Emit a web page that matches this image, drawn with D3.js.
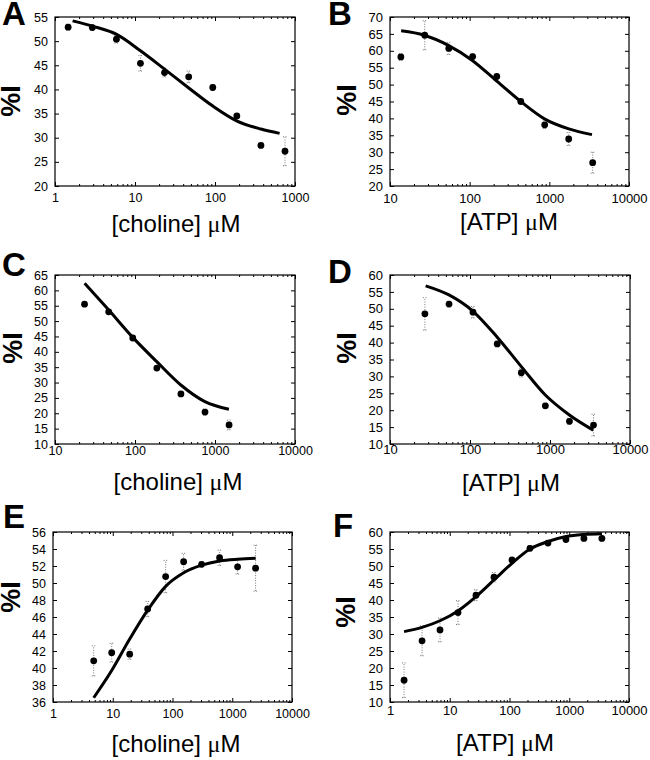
<!DOCTYPE html>
<html>
<head>
<meta charset="utf-8">
<script src="https://cdn.jsdelivr.net/npm/d3@7"></script>
<style>
  html, body { margin: 0; padding: 0; background: #fff; }
  svg { display: block; }
  text { font-family: "Liberation Sans", Arial, sans-serif; fill: #000; }
</style>
</head>
<body>
<svg id="chart" width="650" height="760"></svg>
<script>
// ---- data ----
// A: choline
const concA = [1.46, 2.93, 5.86, 11.7, 23.4, 46.9, 93.8, 187.5, 375, 750];
const valA = [52.9, 52.8, 50.4, 45.4, 43.5, 42.6, 40.4, 34.5, 28.4, 27.2];
const errA = [0.6, 0.6, 0.8, 1.6, 0.9, 1.2, 0.6, 0.4, 0.3, 3.0];
const fitConcA = [1.66, 2.96, 5.9, 11.7, 23.4, 47, 93, 186, 375, 642];
const fitValA = [54.2, 53.1, 51.4, 48.0, 44.2, 40.3, 36.6, 33.5, 31.8, 30.9];

// B: ATP
const concB = [13.7, 27.3, 54.7, 109, 219, 438, 875, 1750, 3500];
const valB = [58.2, 64.6, 60.7, 58.3, 52.4, 45.0, 38.1, 33.9, 26.9];
const errB = [1.0, 4.3, 1.8, 0.8, 0.5, 0.5, 1.1, 1.9, 3.1];
const fitConcB = [13.8, 27, 54, 107, 217, 438, 879, 1758, 3430];
const fitValB = [65.9, 64.6, 61.6, 57.2, 51.1, 45.0, 39.8, 36.9, 35.2];

// C: choline
const concC = [23.4, 46.9, 93.75, 187.5, 375, 750, 1500];
const valC = [55.5, 53.0, 44.5, 34.7, 26.3, 20.4, 16.2];
const errC = [0.5, 0.5, 0.5, 0.6, 0.5, 1.0, 1.6];
const fitConcC = [23.5, 47, 93.8, 187, 374, 747, 1493];
const fitValC = [62.3, 53.6, 44.7, 36.8, 29.2, 23.8, 21.3];

// D: ATP
const concD = [27.3, 54.7, 109, 219, 438, 875, 1750, 3500];
const valD = [48.5, 51.4, 49.0, 39.6, 31.1, 21.3, 16.7, 15.6];
const errD = [4.8, 0.8, 1.7, 0.8, 1.3, 0.8, 0.9, 3.2];
const fitConcD = [27.9, 54.6, 110, 219, 438, 874, 1746, 3470];
const fitValD = [56.8, 54.1, 49.2, 41.6, 32.9, 24.5, 18.6, 14.1];

// E: choline
const concE = [4.8, 9.6, 19.2, 38.4, 76.8, 153.6, 307, 614, 1229, 2458];
const valE = [40.84, 41.8, 41.63, 46.94, 50.76, 52.5, 52.2, 52.97, 51.9, 51.75];
const errE = [1.77, 1.1, 0.6, 0.9, 1.9, 1.0, 0.3, 0.9, 0.85, 2.7];
const fitConcE = [4.8, 9.6, 19.2, 38.4, 76.8, 154, 307, 616, 1231, 2466];
const fitValE = [36.5, 39.7, 43.4, 46.8, 49.6, 51.2, 52.1, 52.6, 52.8, 52.9];

// F: ATP
const concF = [1.72, 3.44, 6.875, 13.75, 27.5, 55, 110, 220, 440, 880, 1760, 3520];
const valF = [16.4, 28.0, 31.2, 36.3, 41.4, 46.7, 51.8, 55.2, 56.75, 57.8, 58.1, 58.1];
const errF = [5.1, 4.4, 3.5, 3.5, 1.6, 1.4, 0.5, 0.8, 0.5, 0.5, 0.5, 0.5];
const fitConcF = [1.72, 3.43, 6.87, 13.7, 27.5, 55, 110, 220, 440, 883, 1766, 3532];
const fitValF = [30.7, 31.95, 33.9, 36.8, 41.0, 45.9, 50.8, 55.0, 57.2, 58.7, 59.3, 59.5];

// axis ranges and tick labels
const yTicksA = [20, 25, 30, 35, 40, 45, 50, 55];
const yTicksB = [20, 25, 30, 35, 40, 45, 50, 55, 60, 65, 70];
const yTicksC = [10, 15, 20, 25, 30, 35, 40, 45, 50, 55, 60, 65];
const yTicksD = [10, 15, 20, 25, 30, 35, 40, 45, 50, 55, 60];
const yTicksE = [36, 38, 40, 42, 44, 46, 48, 50, 52, 54, 56];
const yTicksF = [10, 15, 20, 25, 30, 35, 40, 45, 50, 55, 60];
const xTicksA = [1, 10, 100, 1000];
const xTicksB = [10, 100, 1000, 10000];
const xTicksC = [10, 100, 1000, 10000];
const xTicksD = [10, 100, 1000, 10000];
const xTicksE = [1, 10, 100, 1000, 10000];
const xTicksF = [1, 10, 100, 1000, 10000];
const panelLetters = ["A", "B", "C", "D", "E", "F"];
const xLabels = ["[choline] ", "[ATP] ", "[choline] ", "[ATP] ", "[choline] ", "[ATP] "];

const layout = [
  { x0: 55, x1: 295, y0: 17, y1: 186, lx: 2, ly: 25, ylx: 20, yly: 101, xlx: 176, xly: 232, tickDy: 18, fs: 12.5 },
  { x0: 390, x1: 629, y0: 17, y1: 186, lx: 328, ly: 25, ylx: 356, yly: 100, xlx: 509, xly: 230, tickDy: 19, fs: 13 },
  { x0: 55, x1: 295, y0: 275, y1: 444, lx: 2, ly: 276, ylx: 22, yly: 348, xlx: 178, xly: 490, tickDy: 13, fs: 12.5 },
  { x0: 390, x1: 630, y0: 275, y1: 444, lx: 328, ly: 283, ylx: 356, yly: 348, xlx: 511, xly: 491, tickDy: 12, fs: 13 },
  { x0: 53, x1: 292, y0: 532, y1: 702, lx: 3, ly: 528, ylx: 20, yly: 597, xlx: 176, xly: 752, tickDy: 18, fs: 12.5 },
  { x0: 390, x1: 629, y0: 532, y1: 702, lx: 333, ly: 537, ylx: 355, yly: 612, xlx: 505, xly: 751, tickDy: 15, fs: 13 },
];

const panels = [
  { conc: concA, val: valA, err: errA, fitC: fitConcA, fitV: fitValA, yT: yTicksA, xT: xTicksA },
  { conc: concB, val: valB, err: errB, fitC: fitConcB, fitV: fitValB, yT: yTicksB, xT: xTicksB },
  { conc: concC, val: valC, err: errC, fitC: fitConcC, fitV: fitValC, yT: yTicksC, xT: xTicksC },
  { conc: concD, val: valD, err: errD, fitC: fitConcD, fitV: fitValD, yT: yTicksD, xT: xTicksD },
  { conc: concE, val: valE, err: errE, fitC: fitConcE, fitV: fitValE, yT: yTicksE, xT: xTicksE },
  { conc: concF, val: valF, err: errF, fitC: fitConcF, fitV: fitValF, yT: yTicksF, xT: xTicksF },
];

const svg = d3.select("#chart");

panels.forEach((p, i) => {
  const L = layout[i];
  const g = svg.append("g").attr("class", "panel");

  const x = d3.scaleLog()
    .domain([p.xT[0], p.xT[p.xT.length - 1]])
    .range([L.x0, L.x1]);
  const y = d3.scaleLinear()
    .domain([p.yT[0], p.yT[p.yT.length - 1]])
    .range([L.y1, L.y0]);

  // minor log ticks (2..9 in each decade), drawn inward on top and bottom
  const minor = [];
  for (let k = 0; k < p.xT.length - 1; k++) {
    for (let m = 2; m <= 9; m++) minor.push(p.xT[k] * m);
  }

  // bottom axis
  const xb = g.append("g").attr("transform", `translate(0,${L.y1})`)
    .call(d3.axisBottom(x).tickValues(p.xT).tickSize(-4).tickPadding(L.tickDy - 11)
      .tickFormat(d3.format("d")));
  xb.selectAll("text").attr("font-size", L.fs).attr("font-family", null);
  g.append("g").attr("transform", `translate(0,${L.y1})`)
    .call(d3.axisBottom(x).tickValues(minor).tickSize(-2).tickFormat(""))
    .call((s) => s.select(".domain").remove());
  // top axis (ticks only)
  g.append("g").attr("transform", `translate(0,${L.y0})`)
    .call(d3.axisTop(x).tickValues(p.xT).tickSize(-4).tickFormat(""))
    .call((s) => s.select(".domain").remove());
  g.append("g").attr("transform", `translate(0,${L.y0})`)
    .call(d3.axisTop(x).tickValues(minor).tickSize(-2).tickFormat(""))
    .call((s) => s.select(".domain").remove());

  // left axis
  const yl = g.append("g").attr("transform", `translate(${L.x0},0)`)
    .call(d3.axisLeft(y).tickValues(p.yT).tickSize(-4).tickPadding(7));
  yl.selectAll("text").attr("font-size", L.fs).attr("font-family", null);
  // right axis (ticks only)
  g.append("g").attr("transform", `translate(${L.x1},0)`)
    .call(d3.axisRight(y).tickValues(p.yT).tickSize(-4).tickFormat(""))
    .call((s) => s.select(".domain").remove());

  g.selectAll(".tick line").attr("stroke", "#000");
  g.selectAll(".domain").attr("stroke", "none");

  // frame
  g.append("rect")
    .attr("x", L.x0).attr("y", L.y0)
    .attr("width", L.x1 - L.x0).attr("height", L.y1 - L.y0)
    .attr("fill", "none").attr("stroke", "#000").attr("stroke-width", 1.2);

  const pts = p.conc.map((c, j) => ({ c, v: p.val[j], e: p.err[j] }));

  // error bars: dotted grey
  const eb = g.append("g").attr("class", "errbars")
    .attr("stroke", "#777").attr("stroke-width", 1).attr("stroke-dasharray", "1,1.5");
  eb.selectAll("line.v").data(pts).enter().append("line")
    .attr("x1", (d) => x(d.c)).attr("x2", (d) => x(d.c))
    .attr("y1", (d) => y(d.v - d.e)).attr("y2", (d) => y(d.v + d.e));
  ["lo", "hi"].forEach((side) => {
    eb.selectAll("line." + side).data(pts).enter().append("line")
      .attr("x1", (d) => x(d.c) - 2).attr("x2", (d) => x(d.c) + 2)
      .attr("y1", (d) => y(side === "lo" ? d.v - d.e : d.v + d.e))
      .attr("y2", (d) => y(side === "lo" ? d.v - d.e : d.v + d.e));
  });

  // fitted curve
  const fit = p.fitC.map((c, j) => [c, p.fitV[j]]);
  g.append("path")
    .datum(fit)
    .attr("fill", "none")
    .attr("stroke", "#000")
    .attr("stroke-width", 3)
    .attr("d", d3.line().x((d) => x(d[0])).y((d) => y(d[1])).curve(d3.curveMonotoneX));

  // data points
  g.append("g").selectAll("circle").data(pts).enter().append("circle")
    .attr("cx", (d) => x(d.c)).attr("cy", (d) => y(d.v))
    .attr("r", 3.4).attr("fill", "#000");

  // panel letter
  g.append("text")
    .attr("x", L.lx).attr("y", L.ly)
    .attr("font-size", 33).attr("font-weight", "bold")
    .text(panelLetters[i]);

  // y label
  g.append("text")
    .attr("transform", `translate(${L.ylx},${L.yly}) rotate(-90)`)
    .attr("text-anchor", "middle")
    .attr("font-size", 27).attr("font-weight", "bold")
    .text("%I");

  // x label
  const xl = g.append("text")
    .attr("x", L.xlx).attr("y", L.xly)
    .attr("text-anchor", "middle")
    .attr("font-size", 24);
  xl.append("tspan").text(xLabels[i]);
  xl.append("tspan").attr("font-family", "'Liberation Serif', 'DejaVu Serif', serif").text("\u03bc");
  xl.append("tspan").text("M");
});
</script>
</body>
</html>
